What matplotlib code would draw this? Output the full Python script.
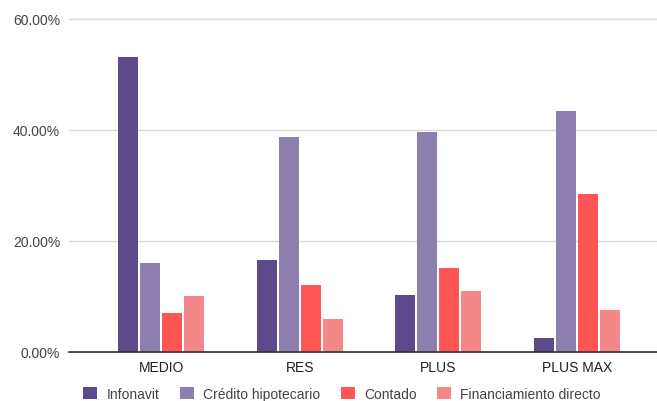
import matplotlib
matplotlib.use("Agg")
import matplotlib.pyplot as plt
import numpy as np
from matplotlib.ticker import FuncFormatter

categories = ["MEDIO", "RES", "PLUS", "PLUS MAX"]
series_names = ["Infonavit", "Crédito hipotecario", "Contado", "Financiamiento directo"]
infonavit = [53.0, 16.5, 10.2, 2.5]
credito = [16.1, 38.7, 39.6, 43.4]
contado = [7.1, 12.1, 15.1, 28.5]
financiamiento = [10.0, 5.9, 11.0, 7.5]
yticks = [0, 20, 40, 60]

colors = ["#5c4a8a", "#8e80ae", "#ff5555", "#f48888"]
series = [infonavit, credito, contado, financiamiento]

plt.rcParams["font.family"] = ["Liberation Sans", "DejaVu Sans"]

W, H = 657, 402
fig = plt.figure(figsize=(W / 100, H / 100), dpi=100)
left_px, bottom_px, top_px = 68.5, 353, 19.5
ax = fig.add_axes([left_px / W, 1 - bottom_px / H, 1 - left_px / W, (bottom_px - top_px) / H])

x = np.arange(len(categories))
step = 0.1586
width = 0.144
offsets = (np.arange(4) - 1.5) * step
for vals, col, name, off in zip(series, colors, series_names, offsets):
    ax.bar(x + off, vals, width=width, color=col, label=name, zorder=3)

ax.set_ylim(0, 60)
ax.set_xlim(-0.668, 3.576)
ax.set_yticks(yticks)
ax.yaxis.set_major_formatter(FuncFormatter(lambda v, p: f"{v:.2f}%"))
ax.set_xticks(x)
ax.set_xticklabels(categories)
ax.tick_params(axis="y", length=0, pad=6, labelsize=10, labelcolor="#444444")
ax.tick_params(axis="x", length=0, pad=6, labelsize=10, labelcolor="#222222")
ax.grid(axis="y", color="#d9d9d9", linewidth=1, zorder=0)
ax.set_axisbelow(True)
for s in ["top", "right", "left"]:
    ax.spines[s].set_visible(False)
ax.spines["bottom"].set_color("#333333")
ax.spines["bottom"].set_linewidth(1.2)
ax.spines["bottom"].set_zorder(4)
for gl in ax.get_ygridlines():
    gl.set_clip_on(False)

leg = fig.legend(loc="center", bbox_to_anchor=(342 / W, 1 - 395 / H), ncol=4, frameon=False,
                 fontsize=10, handlelength=1.0, handleheight=1.0, handletextpad=0.65,
                 columnspacing=1.5, borderaxespad=0)
for t in leg.get_texts():
    t.set_color("#444444")

fig.savefig("out.png", dpi=100)
